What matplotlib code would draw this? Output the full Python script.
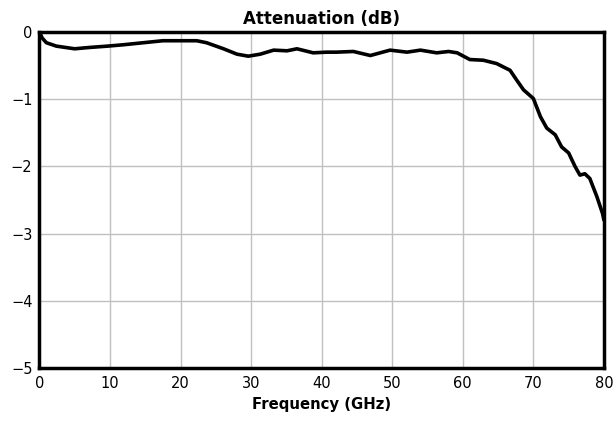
import numpy as np
import matplotlib
matplotlib.use("Agg")
import matplotlib.pyplot as plt

# values
freq_ghz = [0, 0.1, 0.4, 1.0, 2.4, 5.0, 7.1, 9.7, 11.9, 14.7, 17.5, 20.0, 22.3,
            23.7, 26.1, 28.0, 29.6, 31.3, 33.2, 35.1, 36.5, 38.8, 40.7, 42.1,
            44.5, 46.9, 49.7, 52.1, 54.0, 56.3, 58.0, 59.2, 61.0, 62.9, 64.8,
            66.7, 67.6, 68.6, 70.0, 71.0, 71.9, 73.1, 74.0, 75.0, 75.9, 76.6,
            77.3, 78.0, 79.0, 79.8, 80.0]
atten_db = [0, -0.02, -0.09, -0.16, -0.21, -0.25, -0.23, -0.21, -0.19, -0.16,
            -0.13, -0.13, -0.13, -0.16, -0.25, -0.33, -0.36, -0.33, -0.27, -0.28,
            -0.25, -0.31, -0.30, -0.30, -0.29, -0.35, -0.27, -0.30, -0.27, -0.31,
            -0.29, -0.31, -0.41, -0.42, -0.47, -0.57, -0.71, -0.86, -0.99, -1.26,
            -1.43, -1.53, -1.71, -1.80, -2.00, -2.13, -2.11, -2.18, -2.45, -2.70,
            -2.80]

xticks = [0, 10, 20, 30, 40, 50, 60, 70, 80]
yticks = [0, -1, -2, -3, -4, -5]

fig = plt.figure(figsize=(6.15, 4.21), dpi=100)
ax = fig.add_axes([0.064, 0.126, 0.918, 0.798])

ax.plot(freq_ghz, atten_db, color="black", linewidth=2.6,
        solid_joinstyle="round", solid_capstyle="round")

ax.set_xlim(0, 80)
ax.set_ylim(-5, 0)
ax.set_xticks(xticks)
ax.set_yticks(yticks)
ax.grid(True, color="#c0c0c0", linewidth=1)
ax.tick_params(length=0, labelsize=10.5)
ax.tick_params(axis="x", pad=6)
ax.tick_params(axis="y", pad=5)
for s in ax.spines.values():
    s.set_linewidth(2.5)

ax.set_title("Attenuation (dB)", fontsize=12, fontweight="bold", pad=6)
ax.set_xlabel("Frequency (GHz)", fontsize=10.7, fontweight="bold", labelpad=4)

fig.savefig("out.png", dpi=100)
